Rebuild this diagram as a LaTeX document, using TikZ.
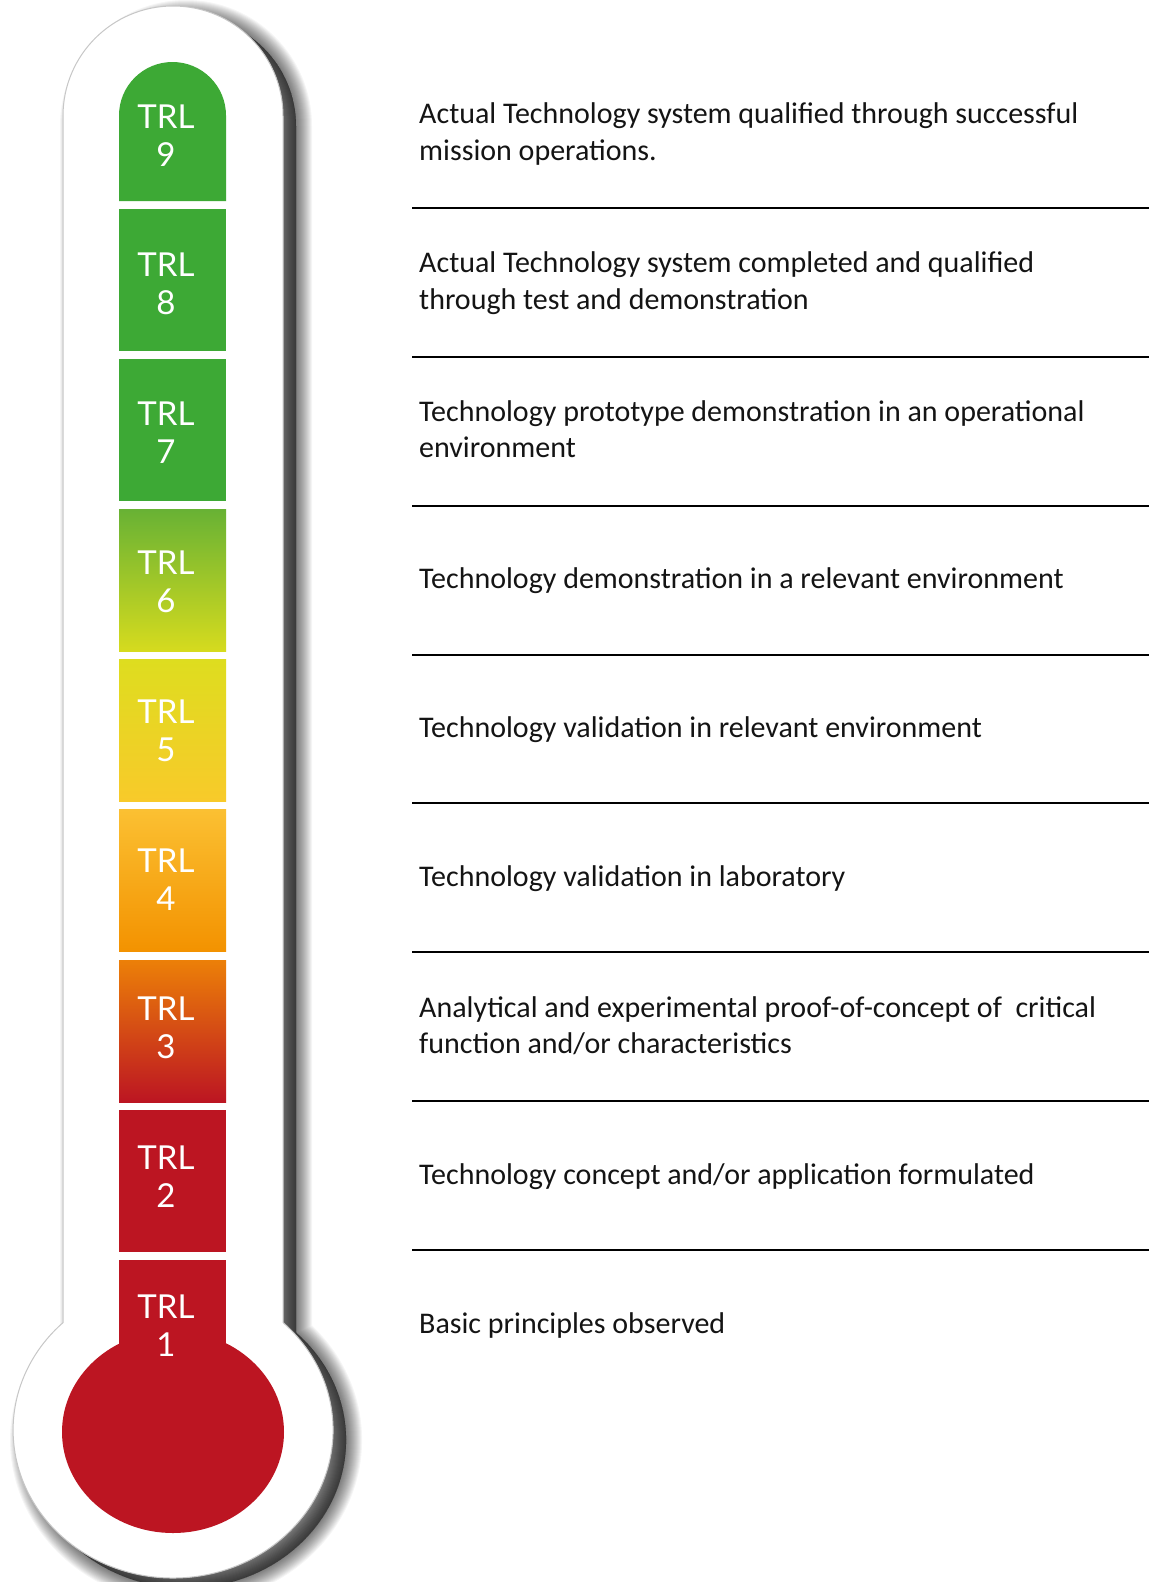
\documentclass[tikz,border=0pt]{standalone}
\usepackage{fontspec}
\setmainfont{Carlito}
\newfontfamily\trlfont{Lato}
\definecolor{trlgreen}{RGB}{61,169,53}
\definecolor{gsixtop}{RGB}{104,178,52}
\definecolor{gsixbot}{RGB}{214,219,30}
\definecolor{yfivetop}{RGB}{222,221,31}
\definecolor{yfivemid}{RGB}{247,234,28}
\definecolor{yfivebot}{RGB}{248,202,42}
\definecolor{ofourtop}{RGB}{251,192,50}
\definecolor{ofourbot}{RGB}{243,146,0}
\definecolor{othreetop}{RGB}{236,128,8}
\definecolor{trlred}{RGB}{188,21,34}
\definecolor{txtc}{RGB}{20,20,20}
\tikzset{
  outerpath/.style={insert path={(63,116) arc[start angle=180,end angle=360,radius=110] -- (283,1322.5) arc[start angle=-46.6,end angle=226.6,x radius=160,y radius=148] -- cycle}},
  seglabel/.style={text=white, font=\trlfont\fontsize{33}{38}\selectfont, anchor=base, inner sep=0pt},
  desc/.style={text=txtc, font=\fontsize{30}{36}\selectfont, anchor=base west, inner sep=0pt},
  sepline/.style={line width=2pt, black},
}
\begin{document}
\begin{tikzpicture}[x=1pt,y=-1pt]
\useasboundingbox (0,0) rectangle (1149,1582);
\fill[white] (0,0) rectangle (1149,1582);
% blurred shadow
\foreach \r in {0,1,...,16}{
  \path[fill=black, draw=black, line width=2*\r pt, opacity=0.038, shift={(13,10)}, outerpath];
}
% thermometer body
\path[fill=white, draw=black!22, line width=1pt, outerpath];
% segments
\fill[trlgreen] (119,201) -- (119,115.5) arc[start angle=180,end angle=360,radius=53.5] -- (226,201) -- cycle;
\fill[trlgreen] (119,209) rectangle (226,351);
\fill[trlgreen] (119,359.2) rectangle (226,501.2);
\shade[top color=gsixtop, bottom color=gsixbot] (119,509.4) rectangle (226,651.4);
\shade[top color=yfivetop, middle color=yfivemid, bottom color=yfivebot] (119,659.6) rectangle (226,801.6);
\shade[top color=ofourtop, bottom color=ofourbot] (119,809.8) rectangle (226,951.8);
\shade[top color=othreetop, bottom color=trlred] (119,960) rectangle (226,1102);
\fill[trlred] (119,1110.2) rectangle (226,1252.2);
\fill[trlred] (119,1260.4) rectangle (226,1400);
\fill[trlred] (173,1432) ellipse[x radius=111, y radius=101];
% labels
\foreach \k in {1,...,9}{
  \pgfmathsetmacro\yb{128+(9-\k)*148.8}
  \node[seglabel] (trl\k) at (166,\yb) {TRL};
  \node[seglabel] (num\k) at (166,\yb+38) {\k};
}
% separator lines
\foreach \i in {0,...,7}{
  \draw[sepline] (412,207.8+\i*148.9) -- (1149,207.8+\i*148.9);
}
% descriptions
\node[desc] (d9a) at (419,123.7) {Actual Technology system qualified through successful};
\node[desc] (d9b) at (419,160.1) {mission operations.};
\node[desc] (d8a) at (419,272.6) {Actual Technology system completed and qualified};
\node[desc] (d8b) at (419,309.0) {through test and demonstration};
\node[desc] (d7a) at (419,421.5) {Technology prototype demonstration in an operational};
\node[desc] (d7b) at (419,457.9) {environment};
\node[desc] (d6) at (419,588.6) {Technology demonstration in a relevant environment};
\node[desc] (d5) at (419,737.5) {Technology validation in relevant environment};
\node[desc] (d4) at (419,886.4) {Technology validation in laboratory};
\node[desc] (d3a) at (419,1017.1) {Analytical and experimental proof-of-concept of\ \ critical};
\node[desc] (d3b) at (419,1053.5) {function and/or characteristics};
\node[desc] (d2) at (419,1184.2) {Technology concept and/or application formulated};
\node[desc] (d1) at (419,1333.1) {Basic principles observed};
\end{tikzpicture}
\end{document}
